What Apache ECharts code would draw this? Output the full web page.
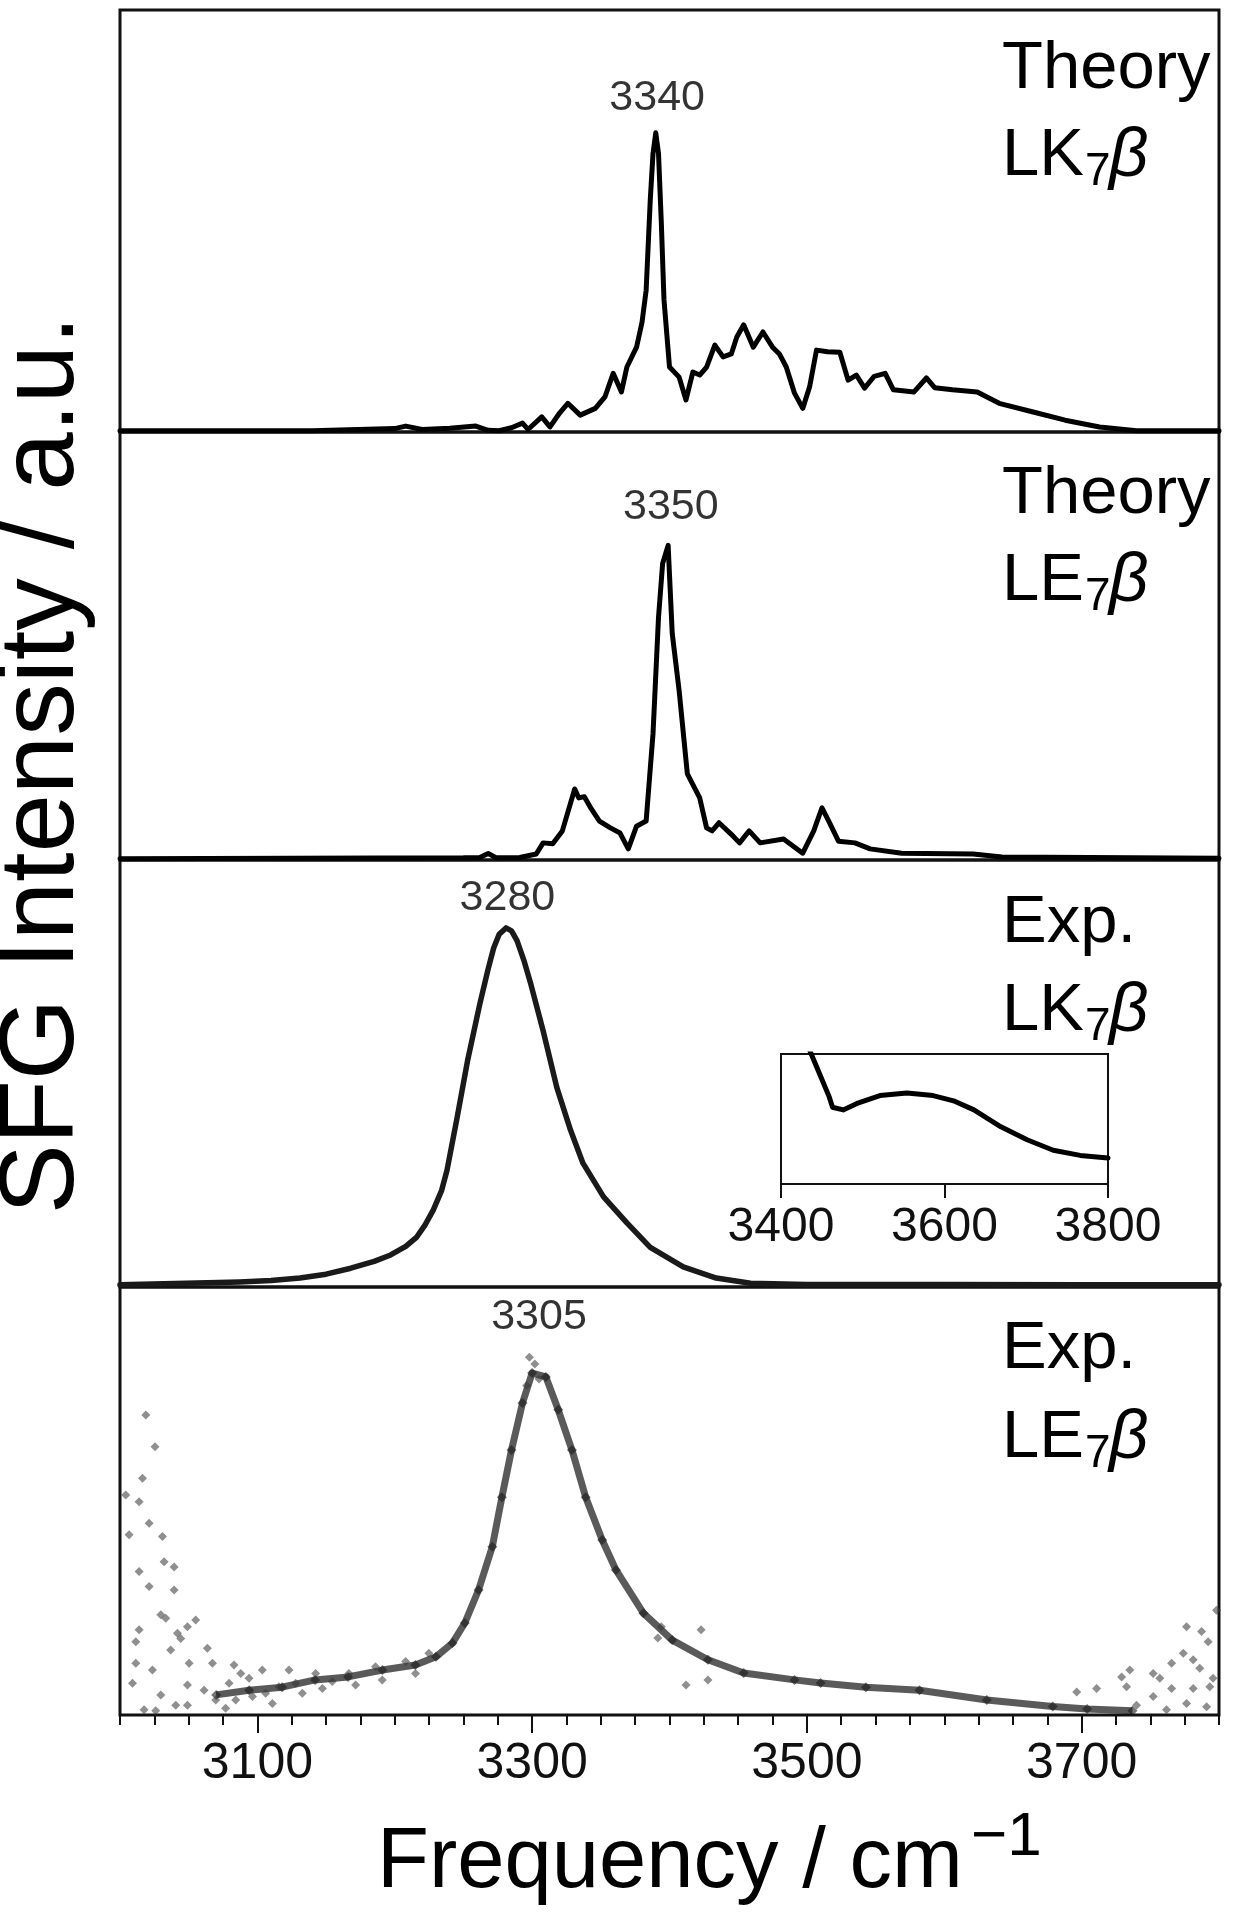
<!DOCTYPE html>
<html>
<head>
<meta charset="utf-8">
<script src="https://cdn.jsdelivr.net/npm/echarts@6/dist/echarts.min.js"></script>
<style>
  html, body { margin: 0; padding: 0; background: #fff; }
  #chart { width: 1234px; height: 1920px; }
</style>
</head>
<body>
<div id="chart"></div>
<script>
// ---------------- DATA ----------------
// x = frequency (cm-1), y = relative intensity in % of each panel height
const theoryLK = [[3000,0.3],[3140,0.3],[3200,0.8],[3208,1.4],[3220,0.6],[3240,0.9],[3259,1.4],[3268,0.4],[3276,0.3],[3285,1.0],[3293,2.1],[3297,0.6],[3307,3.6],[3313,1.2],[3320,4.5],[3326,6.8],[3335,4.0],[3346,5.6],[3353,8.3],[3359,13.9],[3365,9.5],[3369,15.4],[3376,20.1],[3380,26],[3383,33.6],[3386,55],[3388,66],[3390,70.9],[3392,66],[3394,50],[3396,31.3],[3400,15.4],[3407,13.0],[3412,7.6],[3417,14.2],[3422,13.5],[3427,15.4],[3433,20.6],[3439,17.8],[3445,18.5],[3449,22.5],[3454,25.4],[3461,20.1],[3468,23.7],[3475,20.1],[3480,18.5],[3485,15.4],[3491,9.2],[3497,5.6],[3502,10.7],[3507,19.4],[3515,19.0],[3524,18.9],[3530,12.3],[3536,13.5],[3542,10.4],[3549,13.2],[3557,13.9],[3563,10.0],[3578,9.5],[3587,12.8],[3593,10.5],[3606,10.0],[3624,9.5],[3640,6.8],[3664,4.8],[3688,2.8],[3713,1.2],[3740,0.3],[3800,0.3]];

const theoryLE = [[3000,0.3],[3250,0.5],[3262,0.6],[3268,1.5],[3274,0.5],[3291,0.6],[3303,1.4],[3308,4.0],[3315,3.8],[3322,6.8],[3331,16.6],[3334,14.5],[3338,14.8],[3343,12.0],[3349,9.1],[3357,7.5],[3364,6.3],[3370,2.6],[3376,7.9],[3383,9.1],[3388,29.5],[3392,56.7],[3395,69.3],[3399,73.5],[3402,52.9],[3407,39.6],[3413,20.1],[3422,14.5],[3427,7.5],[3431,6.8],[3436,8.7],[3445,6.0],[3451,4.0],[3458,6.8],[3466,4.0],[3483,4.9],[3497,1.6],[3505,6.8],[3511,12.2],[3516,9.0],[3523,4.4],[3535,4.0],[3546,2.6],[3569,1.6],[3621,1.4],[3642,0.7],[3800,0.4]];

const expLK = [[3000,0.5],[3040,0.8],[3087,1.2],[3110,1.5],[3131,2.1],[3150,3.0],[3168,4.4],[3185,6.0],[3197,7.5],[3208,9.5],[3216,11.7],[3222,14.5],[3228,18],[3234,22.5],[3238,27.3],[3245,39],[3253,53],[3262,66.4],[3268,74.5],[3272,79.4],[3276,82.6],[3281,84.1],[3285,83.4],[3289,81.1],[3294,76.5],[3299,71],[3308,60],[3318,46.7],[3328,36.7],[3337,29],[3352,21.1],[3369,15],[3386,9.3],[3410,4.7],[3434,2.1],[3459,0.9],[3500,0.6],[3600,0.6],[3700,0.5],[3800,0.5]];

const insetLK = [[3433,106],[3447,85],[3459,67],[3463,59],[3476,57],[3493,62],[3521,68],[3554,70],[3586,68],[3611,64],[3636,57],[3669,44],[3701,34],[3733,26],[3766,22],[3800,20]];

const expLEband = [[3070,4.7],[3094,5.8],[3118,6.5],[3142,8.2],[3166,8.9],[3191,10.5],[3215,11.7],[3230,13.6],[3242,16.8],[3251,21.5],[3261,29.2],[3271,39.3],[3278,50.9],[3285,61.9],[3293,72.9],[3300,79.9],[3310,79],[3319,71.3],[3329,61.9],[3339,50.9],[3351,40.9],[3361,33.9],[3381,23.8],[3402,17.5],[3428,12.9],[3454,9.8],[3491,8.2],[3510,7.5],[3543,6.5],[3582,5.8],[3631,3.5],[3679,2.0],[3704,1.4],[3737,1.0]];

const expLEscatter = [[3018.8,70.1],[3025.5,62.7],[3016.4,55.3],[3004.2,51.4],[3013.9,49.8],[3006.6,42.1],[3021.2,44.8],[3030.9,41.7],[3032.1,35.8],[3039.4,34.6],[3013.9,33.5],[3021.2,30.0],[3039.4,29.2],[3029.7,23.4],[3033.3,22.6],[3055.1,22.2],[3049.1,20.6],[3013.9,19.9],[3041.8,19.1],[3011.5,17.1],[3044.2,17.9],[3036.9,15.2],[3011.5,12.1],[3023.6,10.5],[3050.3,12.1],[3063.6,15.6],[3067.3,12.1],[3009.1,7.4],[3029.7,4.7],[3049.1,7.0],[3040.6,2.3],[3049.1,2.3],[3017.5,1.2],[3026.0,1.0],[3061.2,5.8],[3069.7,3.5],[3079.4,7.4],[3083.0,11.7],[3087.9,9.7],[3076.9,1.6],[3084.2,3.5],[3093.9,8.6],[3096.4,4.3],[3103.6,10.5],[3106.0,5.1],[3110.9,2.7],[3115.7,6.6],[3123.0,10.5],[3127.9,7.4],[3132.7,5.1],[3142.4,9.7],[3147.3,6.2],[3154.5,7.8],[3166.6,9.7],[3171.5,7.0],[3186.0,11.3],[3190.9,8.2],[3207.9,12.5],[3215.1,9.7],[3224.8,14.4],[3298,83.6],[3302,82.0],[3305,78.5],[3296,77.0],[3394,20.6],[3423,19.9],[3412,7.0],[3428,8.2],[3391.5,18.0],[3776.4,20.6],[3787.3,19.5],[3792.1,17.1],[3774.0,14.4],[3765.5,12.1],[3752.1,9.7],[3781.2,12.9],[3786.0,10.9],[3735.1,10.5],[3729.1,8.9],[3756.9,8.6],[3765.5,6.2],[3795.7,8.6],[3793.3,6.6],[3781.2,6.2],[3732.7,6.6],[3710.9,6.2],[3696.4,5.4],[3752.1,4.3],[3776.4,2.7],[3791.0,1.9],[3740.0,2.3],[3761.8,1.2],[3798.2,24.5]];

const peakLabelText = ['3340', '3350', '3280', '3305'];
const peakLabelX = [3391, 3401, 3282, 3305];
const peakLabelY = [79.1, 82.5, 91.1, 93.0];

const panelLine1 = ['Theory', 'Theory', 'Exp.', 'Exp.'];
const panelLine2 = ['LK', 'LE', 'LK', 'LE'];

const mainTickLabels = [3100, 3300, 3500, 3700];
const insetTickLabels = [3400, 3600, 3800];

// ---------------- LAYOUT ----------------
const FONT = "'Liberation Sans', Arial, Helvetica, sans-serif";
const plotLeft = 120, plotWidth = 1099;
const panelTops = [10, 432, 860, 1287];
const panelBottoms = [432, 860, 1287, 1715];
const lbl1Base = [93, 518, 947, 1373];
const lbl2Base = [180, 605, 1035, 1462];
const plainNum = v => String(v);

const grids = panelTops.map((t, i) => ({
  left: plotLeft, top: t, width: plotWidth, height: panelBottoms[i] - t,
  show: true, borderColor: '#111', borderWidth: 3, backgroundColor: 'transparent'
}));
grids.push({ left: 781, top: 1054, width: 327, height: 130, show: true,
  borderColor: '#111', borderWidth: 2, backgroundColor: 'transparent' });

const xAxes = [0, 1, 2].map(i => ({ gridIndex: i, type: 'value', min: 3000, max: 3800, show: false }));
xAxes.push({
  gridIndex: 3, type: 'value', min: 3000, max: 3800, interval: 25, position: 'bottom',
  axisLine: { show: false },
  axisTick: { show: true, length: 10, lineStyle: { color: '#111', width: 2 } },
  axisLabel: { show: false }, splitLine: { show: false }
});
xAxes.push({
  gridIndex: 3, type: 'value', min: 3000, max: 3800, interval: 100, position: 'bottom', offset: 0,
  axisLine: { show: false },
  axisTick: { show: true, length: 18, customValues: mainTickLabels, lineStyle: { color: '#111', width: 2 } },
  axisLabel: { show: true, customValues: mainTickLabels, formatter: plainNum, fontSize: 50, fontFamily: FONT, color: '#111', margin: 24 },
  splitLine: { show: false }
});
xAxes.push({
  gridIndex: 4, type: 'value', min: 3400, max: 3800, interval: 200, position: 'bottom',
  axisLine: { show: false },
  axisTick: { show: true, length: 14, customValues: insetTickLabels, lineStyle: { color: '#111', width: 2 } },
  axisLabel: { show: true, customValues: insetTickLabels, formatter: plainNum, fontSize: 48, fontFamily: FONT, color: '#111', margin: 20 },
  splitLine: { show: false }
});

const yAxes = [0, 1, 2, 3, 4].map(i => ({ gridIndex: i, type: 'value', min: 0, max: 100, show: false }));

function lineSeries(data, xi, yi, width, color) {
  return { type: 'line', data: data, xAxisIndex: xi, yAxisIndex: yi, showSymbol: false, symbol: 'none',
    lineStyle: { width: width, color: color, join: 'round', cap: 'round' }, clip: true, silent: true, z: 3 };
}

const series = [
  lineSeries(theoryLK, 0, 0, 5, '#000'),
  lineSeries(theoryLE, 1, 1, 5, '#000'),
  lineSeries(expLK, 2, 2, 5.5, '#1a1a1a'),
  lineSeries(insetLK, 5, 4, 5, '#000'),
  {
    type: 'line', data: expLEband, xAxisIndex: 3, yAxisIndex: 3, showSymbol: true, symbol: 'diamond', symbolSize: 10,
    itemStyle: { color: 'rgba(25,25,25,0.6)' },
    lineStyle: { width: 7, color: 'rgba(35,35,35,0.75)', join: 'round' }, clip: true, silent: true, z: 3
  },
  {
    type: 'scatter', data: expLEscatter, xAxisIndex: 3, yAxisIndex: 3, symbol: 'diamond', symbolSize: 9,
    itemStyle: { color: 'rgba(55,55,55,0.7)' }, clip: true, silent: true, z: 4
  }
];
// peak labels placed through the data axes
[0, 1, 2, 3].forEach(i => {
  series.push({
    type: 'scatter', xAxisIndex: i, yAxisIndex: i, symbolSize: 0, silent: true, z: 5,
    data: [{ value: [peakLabelX[i], peakLabelY[i]], name: peakLabelText[i] }],
    label: { show: true, position: 'inside', formatter: '{b}', fontSize: 43, fontFamily: FONT, color: '#000',
      textBorderWidth: 0 }
  });
});

// ---------------- TEXT (graphic) ----------------
const graphic = [];
const F1 = 67, FS = 46;
[0, 1, 2, 3].forEach(i => {
  graphic.push({ type: 'text', x: 1002, y: lbl1Base[i] - 0.35 * F1, z: 10,
    style: { text: panelLine1[i], fontSize: F1, fontFamily: FONT, fill: '#000', align: 'left', verticalAlign: 'middle' } });
  graphic.push({ type: 'text', x: 1002, y: lbl2Base[i] - 0.35 * F1, z: 10,
    style: { text: panelLine2[i], fontSize: F1, fontFamily: FONT, fill: '#000', align: 'left', verticalAlign: 'middle' } });
  graphic.push({ type: 'text', x: 1085, y: lbl2Base[i] + 8 - 0.35 * FS, z: 10,
    style: { text: '7', fontSize: FS, fontFamily: FONT, fill: '#000', align: 'left', verticalAlign: 'middle' } });
  graphic.push({ type: 'text', x: 1109, y: lbl2Base[i] - 0.35 * F1, z: 10,
    style: { text: 'β', fontSize: F1 + 2, fontStyle: 'italic', fontFamily: FONT, fill: '#000', align: 'left', verticalAlign: 'middle' } });
});
// axis titles
graphic.push({ type: 'text', x: 377, y: 1893 - 0.35 * 85, z: 10,
  style: { text: 'Frequency / cm', fontSize: 85, fontFamily: FONT, fill: '#000', align: 'left', verticalAlign: 'middle' } });
graphic.push({ type: 'text', x: 971, y: 1860 - 0.35 * 62, z: 10,
  style: { text: '\u22121', fontSize: 62, fontFamily: FONT, fill: '#000', align: 'left', verticalAlign: 'middle' } });
graphic.push({ type: 'text', x: 44, y: 765, rotation: Math.PI / 2, z: 10,
  style: { text: 'SFG Intensity / a.u.', fontSize: 105, fontFamily: FONT, fill: '#000', align: 'center', verticalAlign: 'middle' } });

const chart = echarts.init(document.getElementById('chart'), null, { renderer: 'canvas' });
chart.setOption({
  animation: false,
  backgroundColor: '#fff',
  grid: grids,
  xAxis: xAxes,
  yAxis: yAxes,
  series: series,
  graphic: graphic
});
</script>
</body>
</html>
